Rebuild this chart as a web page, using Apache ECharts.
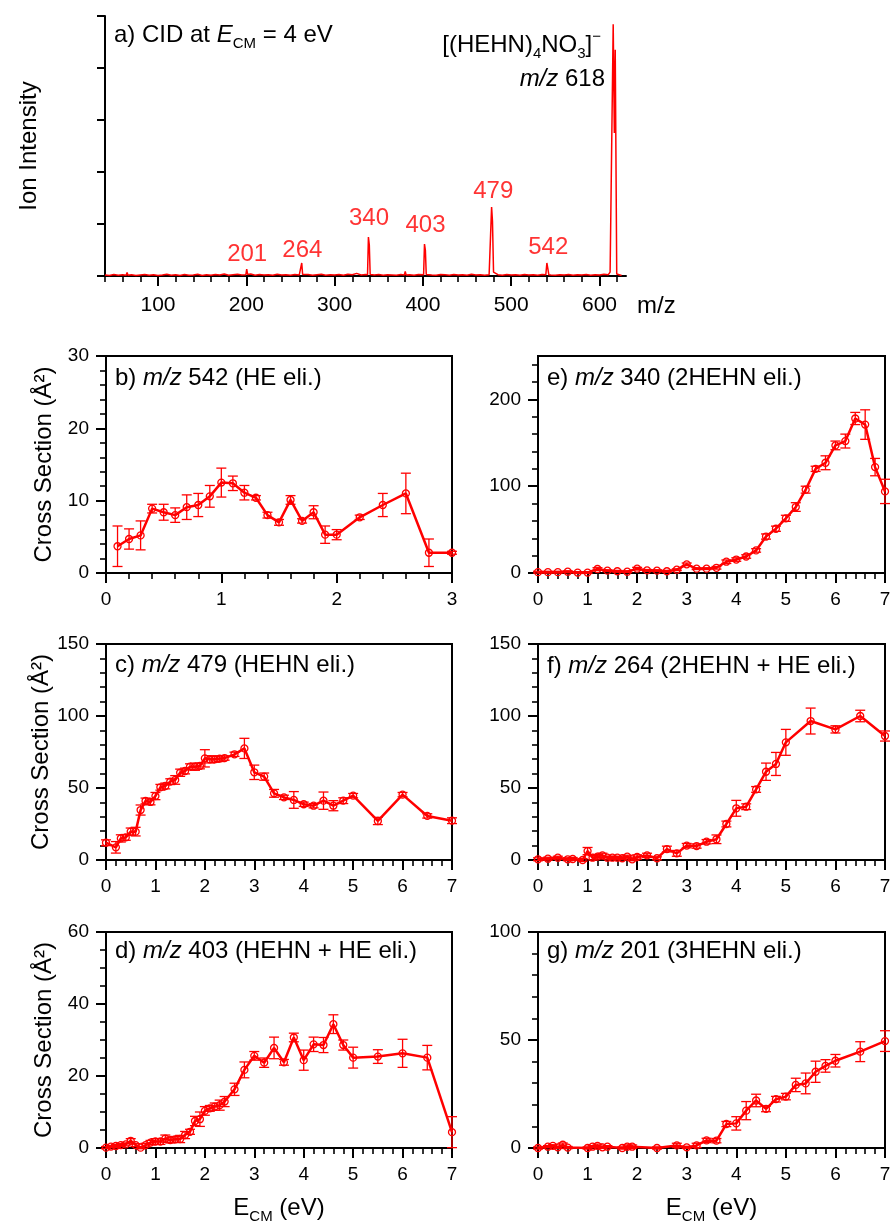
<!DOCTYPE html>
<html>
<head>
<meta charset="utf-8">
<script src="https://cdn.jsdelivr.net/npm/echarts@6.0.0/dist/echarts.min.js"></script>
<style>
html,body{margin:0;padding:0;background:#ffffff;}
#chart{width:894px;height:1228px;}
</style>
</head>
<body>
<div id="chart"></div>
<script>
// ================= DATA =================
// Panel a: CID mass spectrum [m/z, relative intensity]
const spectrum = [
[40,0.4],[45,0.2],[50,0.6],[55,0.3],[60,0.5],[64,0.3],[65,1.4],[66,0.3],[70,0.5],[75,0.2],[80,0.4],[85,0.6],[90,0.3],[95,0.5],[100,0.2],[105,0.4],[110,0.7],[115,0.3],[120,0.5],[125,0.2],[130,0.6],[135,0.3],[140,0.4],[145,0.7],[150,0.2],[155,0.5],[160,0.3],[165,0.6],[170,0.4],[175,0.8],[180,0.3],[185,0.5],[190,0.7],[195,0.4],
[199.5,0.5],[200.5,2.6],[201.5,0.6],[205,0.8],[210,0.3],[215,0.6],[220,0.4],[225,0.5],[230,0.3],[235,0.7],[240,0.4],[245,0.5],[250,0.3],[255,0.6],[260,0.4],
[261.8,0.5],[262.8,5.0],[263.8,0.6],[265,0.4],[270,0.6],[275,0.3],[280,0.5],[285,0.7],[290,0.3],[295,0.5],[300,0.4],[305,0.6],[310,0.3],[315,0.7],[320,0.5],[325,1.0],[330,0.4],[335,0.6],
[337.3,0.5],[338.3,15.0],[339.3,12.0],[340.3,0.6],[345,0.4],[350,0.6],[355,0.3],[360,0.5],[365,0.4],[370,0.3],[375,0.6],[379,0.4],[380,1.8],[381,0.4],[385,0.5],[390,0.3],[395,0.6],
[400.8,0.5],[401.8,12.3],[402.8,10.0],[403.8,0.6],[405,0.5],[410,0.4],[415,0.3],[420,0.6],[425,0.5],[430,0.3],[435,0.6],[440,0.4],[445,0.5],[450,0.3],[455,0.7],[460,0.4],[465,0.5],[470,0.3],[475,0.5],
[476.6,0.6],[477.8,26.5],[478.8,21.0],[480,1.5],[481,0.8],[485,0.5],[490,0.3],[495,0.6],[500,0.4],[505,0.5],[510,0.3],[515,0.6],[520,0.4],[525,0.5],[530,0.3],[535,0.6],
[539.2,0.5],[540.4,5.0],[541.4,3.0],[542.6,0.5],[545,0.4],[550,0.3],[555,0.5],[560,0.4],[565,0.6],[570,0.3],[575,0.5],[580,0.4],[585,0.6],[590,0.3],[595,0.5],[600,0.4],[605,0.7],[610,0.5],[612,1.5],
[613.5,1.0],[615.5,96.8],[616.8,55],[617.8,87],[619.5,0.8],[621,0.3],[625,0.2]
];
const peakLabelText = ['201','264','340','403','479','542'];
const peakLabelMz   = [201, 263.5, 339, 403, 479.7, 542];
const peakLabelY    = [8.5, 10, 22.3, 19.6, 32.7, 11.1];

// tick labels
const aXTickLabels = [100,200,300,400,500,600];
const aXMinorTicks = [40,60,80,120,140,160,180,220,240,260,280,320,340,360,380,420,440,460,480,520,540,560,580,620];
const eYTickLabels = [0,100,200];
const eYMinorTicks = [20,40,60,80,120,140,160,180,220,240];

// b) m/z 542
const bX   = [0.1,0.2,0.3,0.4,0.5,0.6,0.7,0.8,0.9,1.0,1.1,1.2,1.3,1.4,1.5,1.6,1.7,1.8,1.9,2.0,2.2,2.4,2.6,2.8,3.0];
const bY   = [3.7,4.7,5.2,8.9,8.4,8.0,9.1,9.4,10.6,12.5,12.4,11.1,10.4,8.0,7.0,10.1,7.2,8.4,5.3,5.3,7.7,9.4,11.0,2.8,2.8];
const bErr = [2.8,1.4,2.0,0.6,1.1,1.0,1.7,1.6,1.5,2.0,1.0,1.0,0.3,0.4,0.4,0.6,0.3,0.9,1.2,0.7,0.3,1.6,2.8,1.9,0.2];

// e) m/z 340
const eX   = [0,0.2,0.4,0.6,0.8,1.0,1.2,1.4,1.6,1.8,2.0,2.2,2.4,2.6,2.8,3.0,3.2,3.4,3.6,3.8,4.0,4.2,4.4,4.6,4.8,5.0,5.2,5.4,5.6,5.8,6.0,6.2,6.4,6.6,6.8,7.0];
const eY   = [1,1,1,1.5,0.5,0.5,4.6,2.7,2,1.5,5,3,2.7,2,3.8,10,5,5,6,13,15.5,19,26,42,51,63,76,96,120,127,147,152,178,171,122,94];
const eErr = [1,1,1,1,1,1,1.5,1,1,1,1.5,1,1,1,1,1.5,1,1,1.5,2,2,2,2,3,3,3.5,5,4,3,8,5,8,7,17,10,14];

// c) m/z 479
const cX   = [0,0.2,0.3,0.4,0.5,0.6,0.7,0.8,0.9,1.0,1.1,1.2,1.3,1.4,1.5,1.6,1.7,1.8,1.9,2.0,2.1,2.2,2.3,2.4,2.6,2.8,3.0,3.2,3.4,3.6,3.8,4.0,4.2,4.4,4.6,4.8,5.0,5.5,6.0,6.5,7.0];
const cY   = [12.0,8.8,15.0,15.7,19.7,19.7,34.7,41.0,40.3,44.4,50.5,51.4,54.4,55.6,60.6,61.8,64.8,64.8,65.3,70.6,69.9,69.9,70.4,70.8,73.4,77.5,60.9,57.9,46.3,43.5,41.7,38.7,37.7,41.2,37.7,41.2,44.7,27.1,45.4,30.6,27.3];
const cErr = [2,4,2.5,2,2.5,3,3.5,2,2,2.5,2,2,2,3,2.5,2,2,2.5,2,6,2.5,2,2,1.5,1.5,7,5,2.5,2.7,1.5,5.8,1.5,1.5,6,3.5,2,1.5,2.5,1.5,1.5,2];

// f) m/z 264
const fX   = [0,0.2,0.4,0.6,0.7,0.9,1.0,1.1,1.2,1.3,1.4,1.5,1.6,1.7,1.8,1.9,2.0,2.2,2.4,2.6,2.8,3.0,3.2,3.4,3.6,3.8,4.0,4.2,4.4,4.6,4.8,5.0,5.5,6.0,6.5,7.0];
const fY   = [0.5,0.9,1.6,0.5,0.7,0,6.2,1.6,2.3,3.2,1.6,1.6,1.6,1.2,2.3,0.5,2.1,3.2,1.2,7.6,4.6,10,9.7,12.7,14.4,25,35.9,37,49,61.3,66.7,81.7,96.5,90.7,100,86.1];
const fErr = [1,1,1,1,1,1,2.5,1.5,1.5,1.5,1,1,1,1,1,1,1.5,1.5,1,2,2,1.5,1.5,1.5,3,2,5.5,2,2,6,8,9,9,2.5,4,3.5];

// d) m/z 403
const dX   = [0,0.1,0.2,0.3,0.4,0.5,0.6,0.7,0.8,0.9,1.0,1.1,1.2,1.3,1.4,1.5,1.6,1.7,1.8,1.9,2.0,2.1,2.2,2.3,2.4,2.6,2.8,3.0,3.2,3.4,3.6,3.8,4.0,4.2,4.4,4.6,4.8,5.0,5.5,6.0,6.5,7.0];
const dY   = [0.1,0.4,0.55,0.8,1.0,2.0,0.8,0.1,0.8,1.5,1.8,1.8,2.6,2.2,2.4,2.5,3.6,4.5,7.5,8.0,10.3,11.0,11.5,11.9,12.9,16.3,21.7,25.6,23.7,27.8,23.8,30.7,24.4,28.8,28.6,34.4,28.6,25.1,25.4,26.3,25.1,4.4];
const dErr = [0.3,0.3,0.4,0.4,0.4,0.6,0.4,0.3,0.5,0.6,0.8,0.8,1.0,0.8,0.8,1.0,1.0,0.7,1.3,2.0,1.2,0.8,1.0,1.4,1.4,1.7,2.2,1.2,1.3,3.0,0.8,1.2,2.8,2.0,2.1,2.6,1.4,2.9,1.9,3.9,3.4,4.3];

// g) m/z 201
const gX   = [0,0.2,0.3,0.4,0.5,0.6,1.0,1.1,1.2,1.3,1.4,1.7,1.8,1.9,2.4,2.8,3.0,3.2,3.4,3.6,3.8,4.0,4.2,4.4,4.6,4.8,5.0,5.2,5.4,5.6,5.8,6.0,6.5,7.0];
const gY   = [0,0.6,1,0.3,1.5,0.2,0,0.6,1,0.3,0.6,0,0.6,0.6,0,1.2,0.3,1.2,3.5,3.4,11.1,11.4,17.3,22,18.1,22.6,23.8,29.2,29.9,35.3,38,40.4,44.6,49.5];
const gErr = [0.5,0.5,0.5,0.5,0.8,0.5,0.5,0.5,0.8,0.5,0.5,0.5,0.8,0.8,0.5,1,0.5,1,1,1,1.2,3.1,4.2,2.9,1.3,1.3,1.5,3.1,4.8,4.9,2.9,2.9,4.6,4.8];

// ================= STYLE / LAYOUT =================
const FONT = '"Liberation Sans", Arial, Helvetica, sans-serif';
const RED = '#ff0000';
const BLACK = '#000000';

function merge(a, b) {
  const o = Object.assign({}, a);
  for (const k in b) {
    if (b[k] && typeof b[k] === 'object' && !Array.isArray(b[k]) && a[k] && typeof a[k] === 'object' && !Array.isArray(a[k])) o[k] = merge(a[k], b[k]);
    else o[k] = b[k];
  }
  return o;
}
const baseAxis = {
  type: 'value',
  axisLine: {show: true, onZero: false, lineStyle: {color: BLACK, width: 2}},
  axisTick: {show: true, inside: false, length: 10, lineStyle: {color: BLACK, width: 2}},
  minorTick: {show: false, length: 6, lineStyle: {color: BLACK, width: 1.6}},
  splitLine: {show: false},
  minorSplitLine: {show: false},
  axisLabel: {show: true, color: BLACK, fontSize: 19, fontFamily: FONT, margin: 17},
  nameTextStyle: {color: BLACK, fontSize: 24, fontFamily: FONT}
};
function axis(o) { return merge(baseAxis, o); }

const gRich = {
  n: {fontSize: 24, fontFamily: FONT, fill: BLACK, lineHeight: 32},
  i: {fontSize: 24, fontFamily: FONT, fill: BLACK, fontStyle: 'italic', lineHeight: 32},
  s: {fontSize: 15, fontFamily: FONT, fill: BLACK, lineHeight: 15, verticalAlign: 'bottom'},
  p: {fontSize: 15, fontFamily: FONT, fill: BLACK, lineHeight: 15, verticalAlign: 'top'}
};
function gText(x, y, text, align) {
  return {type: 'text', x: x, y: y, z: 100, silent: true,
    style: {text: text, align: align || 'left', verticalAlign: 'middle', rich: gRich,
            fontSize: 24, fontFamily: FONT, fill: BLACK}};
}

function errRender(params, api) {
  const x = api.value(0), lo = api.value(1), hi = api.value(2);
  const pH = api.coord([x, hi]), pL = api.coord([x, lo]);
  const w = 5;
  const st = {stroke: RED, lineWidth: 1.3};
  return {type: 'group', children: [
    {type: 'line', shape: {x1: pH[0], y1: pH[1], x2: pL[0], y2: pL[1]}, style: st},
    {type: 'line', shape: {x1: pH[0] - w, y1: pH[1], x2: pH[0] + w, y2: pH[1]}, style: st},
    {type: 'line', shape: {x1: pL[0] - w, y1: pL[1], x2: pL[0] + w, y2: pL[1]}, style: st}
  ]};
}

const grid = [], xAxis = [], yAxis = [], series = [], graphic = [];

// ---- panel a ----
grid.push({left: 105, top: 16, width: 521, height: 260, show: false, containLabel: false, outerBoundsMode: 'none'});
xAxis.push(axis({gridIndex: 0, position: 'bottom', min: 40, max: 630,
  axisLabel: {customValues: aXTickLabels, fontSize: 21, margin: 19},
  axisTick: {customValues: aXTickLabels, length: 10}}));
xAxis.push(axis({gridIndex: 0, position: 'bottom', min: 40, max: 630,
  axisLine: {show: false}, axisLabel: {show: false},
  axisTick: {customValues: aXMinorTicks, length: 6, lineStyle: {width: 1.6}}}));
yAxis.push(axis({gridIndex: 0, position: 'left', min: 0, max: 100, interval: 20,
  axisLabel: {show: false}, axisTick: {length: 8},
  name: 'Ion Intensity', nameLocation: 'middle', nameRotate: 90, nameGap: 64}));
series.push({type: 'line', xAxisIndex: 0, yAxisIndex: 0, data: spectrum, symbol: 'none',
  lineStyle: {color: RED, width: 1.5}, silent: true, z: 3});
series.push({type: 'scatter', xAxisIndex: 0, yAxisIndex: 0,
  data: peakLabelMz.map((m, i) => [m, peakLabelY[i]]), symbolSize: 1,
  itemStyle: {color: 'rgba(0,0,0,0)'}, silent: true,
  label: {show: true, position: 'inside', formatter: p => peakLabelText[p.dataIndex],
          color: RED, fontSize: 24, fontFamily: FONT}});
graphic.push(gText(114, 35, '{n|a) CID at }{i|E}{s|CM}{n| = 4 eV}'));
graphic.push(gText(601, 45, '{n|[(HEHN)}{s|4}{n|NO}{s|3}{n|]}{p|\u2212}', 'right'));
graphic.push(gText(605, 79, '{i|m/z}{n| 618}', 'right'));
graphic.push(gText(637, 306, '{n|m/z}'));

// ---- panels b-g ----
const panels = [
  {g: {left: 106, top: 356, width: 346, height: 217}, xMax: 3, yMax: 30, yInt: 10, ySplit: 5, X: bX, Y: bY, E: bErr, t1: 'b) ', t2: ' 542 (HE eli.)', ty: 378, yName: true},
  {g: {left: 538, top: 356, width: 347, height: 217}, xMax: 7, yMax: 250, special: true, X: eX, Y: eY, E: eErr, t1: 'e) ', t2: ' 340 (2HEHN eli.)', ty: 378},
  {g: {left: 106, top: 644, width: 346, height: 216}, xMax: 7, yMax: 150, yInt: 50, ySplit: 5, X: cX, Y: cY, E: cErr, t1: 'c) ', t2: ' 479 (HEHN eli.)', ty: 665, yName: true},
  {g: {left: 538, top: 644, width: 347, height: 216}, xMax: 7, yMax: 150, yInt: 50, ySplit: 5, X: fX, Y: fY, E: fErr, t1: 'f) ', t2: ' 264 (2HEHN + HE eli.)', ty: 666},
  {g: {left: 106, top: 932, width: 346, height: 216}, xMax: 7, yMax: 60, yInt: 20, ySplit: 4, X: dX, Y: dY, E: dErr, t1: 'd) ', t2: ' 403 (HEHN + HE eli.)', ty: 951, yName: true, xName: true},
  {g: {left: 538, top: 932, width: 347, height: 216}, xMax: 7, yMax: 100, yInt: 50, ySplit: 5, X: gX, Y: gY, E: gErr, t1: 'g) ', t2: ' 201 (3HEHN eli.)', ty: 951, xName: true}
];

const nameRich = {
  n: {fontSize: 24, fontFamily: FONT, color: BLACK, lineHeight: 32},
  s: {fontSize: 15, fontFamily: FONT, color: BLACK, lineHeight: 15, verticalAlign: 'bottom'}
};

panels.forEach(p => {
  const gi = grid.length;
  grid.push(Object.assign({show: true, borderColor: BLACK, borderWidth: 2, backgroundColor: 'rgba(0,0,0,0)',
    containLabel: false, outerBoundsMode: 'none'}, p.g));
  const xi = xAxis.length;
  xAxis.push(axis({gridIndex: gi, position: 'bottom', min: 0, max: p.xMax, interval: 1,
    minorTick: {show: true, splitNumber: 5},
    name: p.xName ? '{n|E}{s|CM}{n| (eV)}' : '', nameLocation: 'middle', nameGap: 44,
    nameTextStyle: {rich: nameRich}}));
  const yi = yAxis.length;
  if (p.special) {
    yAxis.push(axis({gridIndex: gi, position: 'left', min: 0, max: p.yMax,
      axisLabel: {customValues: eYTickLabels}, axisTick: {customValues: eYTickLabels}}));
    yAxis.push(axis({gridIndex: gi, position: 'left', min: 0, max: p.yMax,
      axisLine: {show: false}, axisLabel: {show: false},
      axisTick: {customValues: eYMinorTicks, length: 6, lineStyle: {width: 1.6}}}));
  } else {
    yAxis.push(axis({gridIndex: gi, position: 'left', min: 0, max: p.yMax, interval: p.yInt,
      minorTick: {show: true, splitNumber: p.ySplit},
      name: p.yName ? 'Cross Section (\u00C5\u00B2)' : '', nameLocation: 'middle', nameRotate: 90, nameGap: 50}));
  }
  series.push({type: 'custom', xAxisIndex: xi, yAxisIndex: yi, renderItem: errRender, silent: true, z: 2,
    data: p.X.map((x, i) => [x, p.Y[i] - p.E[i], p.Y[i] + p.E[i]]), encode: {x: 0, y: [1, 2]}});
  series.push({type: 'line', xAxisIndex: xi, yAxisIndex: yi, silent: true, z: 3,
    data: p.X.map((x, i) => [x, p.Y[i]]),
    symbol: 'circle', symbolSize: 7, showAllSymbol: true,
    lineStyle: {color: RED, width: 2.5},
    itemStyle: {color: 'rgba(255,0,0,0)', borderColor: RED, borderWidth: 1.3}});
  graphic.push(gText(p.g.left + 9, p.ty, '{n|' + p.t1 + '}{i|m/z}{n|' + p.t2 + '}'));
});

const chart = echarts.init(document.getElementById('chart'), null, {renderer: 'canvas'});
chart.setOption({
  animation: false,
  backgroundColor: '#ffffff',
  grid: grid, xAxis: xAxis, yAxis: yAxis, series: series, graphic: graphic
});
</script>
</body>
</html>
